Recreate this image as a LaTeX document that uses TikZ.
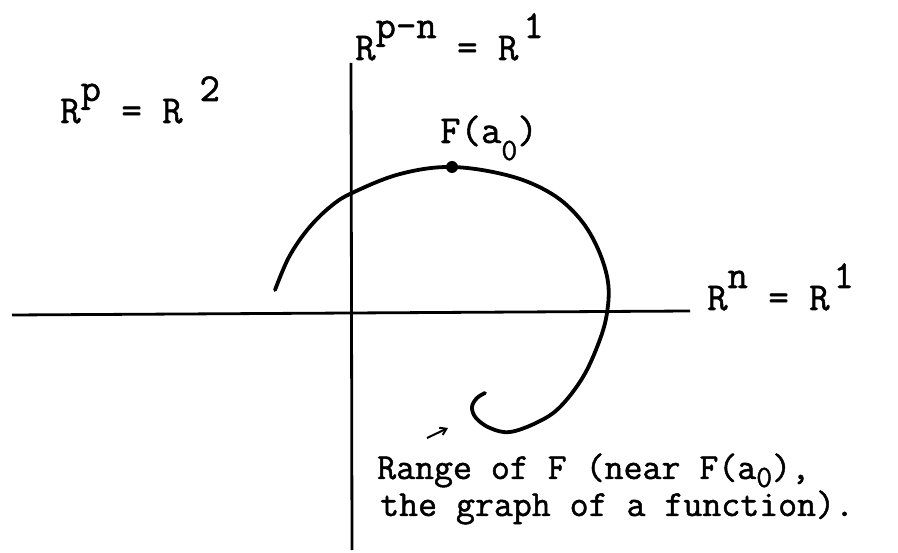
\documentclass[tikz,border=0pt]{standalone}
\usepackage{fontspec}
\newfontfamily\tw{Latin Modern Mono}[FakeBold=1.3]
\usetikzlibrary{arrows.meta}
\newcommand\myup[1]{\raisebox{22pt}{#1}}
\newcommand\mydn[2]{\raisebox{-#1pt}{\fontsize{31}{31}\selectfont #2}}
\begin{document}
\begin{tikzpicture}[x=1pt,y=-1pt,
  lbl/.style={anchor=base west,inner sep=0pt,font=\fontsize{39.6}{46}\selectfont\tw},
  note/.style={anchor=base west,inner sep=0pt,font=\fontsize{36.8}{40}\selectfont\tw},
  axis/.style={line width=2.8pt},
  curve/.style={line width=3.8pt,line cap=round,line join=round}]
\useasboundingbox (0,0) rectangle (898,553);
% axes
\coordinate (vt) at (351,63);
\coordinate (vb) at (352,550);
\coordinate (hl) at (12,315);
\coordinate (hr) at (690,311);
\draw[axis] (vt) -- (vb);
\draw[axis] (hl) -- (hr);
% range curve
\draw[curve] plot[smooth,tension=0.6] coordinates {
 (275,290) (289,257) (308,229) (330,207) (352,193) (400,174) (452,167) (510,176)
 (552,194) (580,219) (598,249) (608,282) (607,313) (599,342) (583,377)
 (560,407) (538,422) (510,432) (490,428) (476,418) (472,407) (477,398) (485,393)};
% point F(a0)
\node[circle,fill=black,inner sep=0pt,minimum size=12pt] (dot) at (452,167) {};
% labels
\node[lbl] (rp) at (60,123) {R\myup{p} = R\hspace{17pt}\myup{2}};
\node[lbl] (rpn) at (355,60) {R\myup{p-n} = R\hspace{5pt}\myup{1}};
\node[lbl] (rn) at (707,310) {R\myup{n} = R\hspace{4pt}\myup{1}};
\node[lbl] (fa) at (440,143) {F(a\mydn{17}{0})};
\node[note] (l1) at (377,479) {Range of F (near F(a\mydn{8}{0}),};
\node[note] (l2) at (380,516) {the graph of a function).};
% small arrow
\coordinate (as) at (427,438);
\coordinate (ae) at (448,428);
\draw[line width=2pt,-{Straight Barb[length=6pt,width=8pt]}] (as) -- (ae);
\end{tikzpicture}
\end{document}
